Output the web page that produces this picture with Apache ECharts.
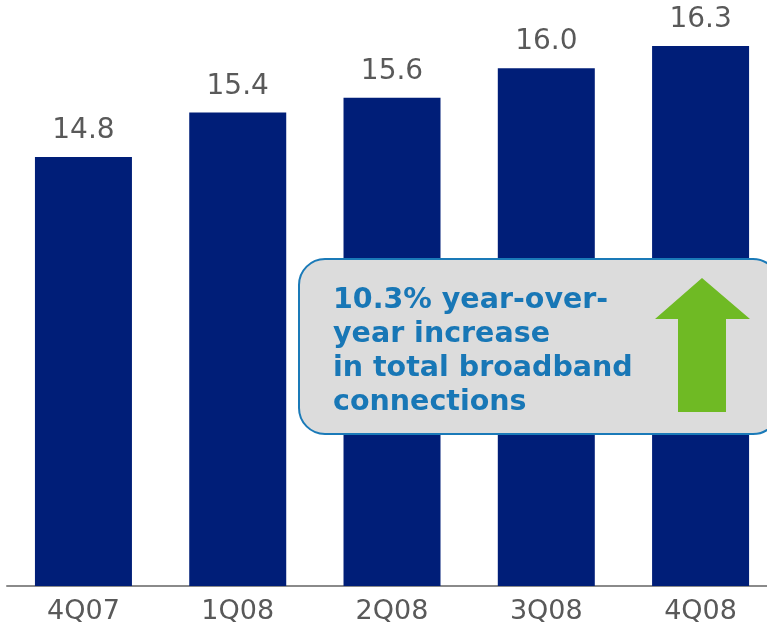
<!DOCTYPE html>
<html>
<head>
<meta charset="utf-8">
<script src="https://cdn.jsdelivr.net/npm/echarts@6/dist/echarts.min.js"></script>
<style>
html,body{margin:0;padding:0;background:#fff;}
#chart{width:767px;height:625px;}
</style>
</head>
<body>
<div id="chart"></div>
<script>
var categories = ['4Q07', '1Q08', '2Q08', '3Q08', '4Q08'];
var values = [14.8, 15.4, 15.6, 16.0, 16.3];
var calloutLines = ['10.3% year-over-', 'year increase', 'in total broadband', 'connections'];

var categoryIndex = categories.map(function (c, i) { return i; });

var chart = echarts.init(document.getElementById('chart'), null, {renderer: 'canvas'});
chart.setOption({
  animation: false,
  grid: {left: 7, top: 46, bottom: 38, right: 0, containLabel: false},
  xAxis: {
    type: 'value',
    min: -0.4955,
    max: 4.4305,
    axisLine: {show: true, onZero: false, lineStyle: {color: '#8a8a8a', width: 2}},
    axisTick: {show: false},
    splitLine: {show: false},
    axisLabel: {
      customValues: categoryIndex,
      color: '#595959', fontSize: 27, fontFamily: 'DejaVu Sans', margin: 12,
      formatter: function (v) { return categories[Math.round(v)] || ''; }
    }
  },
  yAxis: {
    type: 'value',
    min: 9,
    max: 16.3,
    show: false,
    splitLine: {show: false}
  },
  series: [{
    type: 'bar',
    data: values.map(function (v, i) { return [i, v]; }),
    barWidth: 97,
    itemStyle: {color: '#001e78'},
    label: {
      show: true,
      position: 'top',
      distance: 12,
      color: '#595959',
      fontSize: 28,
      fontFamily: 'DejaVu Sans',
      formatter: function (p) { return p.value[1].toFixed(1); }
    }
  }],
  graphic: [
    {
      type: 'rect',
      shape: {x: 299, y: 259, width: 480, height: 175, r: 26},
      style: {fill: '#dcdcdc', stroke: '#1a7ab8', lineWidth: 2},
      z: 100
    },
    {
      type: 'text',
      x: 333,
      y: 284,
      style: {
        text: calloutLines.join('\n'),
        fill: '#1877b6',
        font: 'bold 28.5px "DejaVu Sans"',
        lineHeight: 34
      },
      z: 101
    },
    {
      type: 'polygon',
      shape: {points: [[702, 278], [750, 319], [726, 319], [726, 412], [678, 412], [678, 319], [655, 319]]},
      style: {fill: '#6fba24'},
      z: 101
    }
  ]
});
</script>
</body>
</html>
